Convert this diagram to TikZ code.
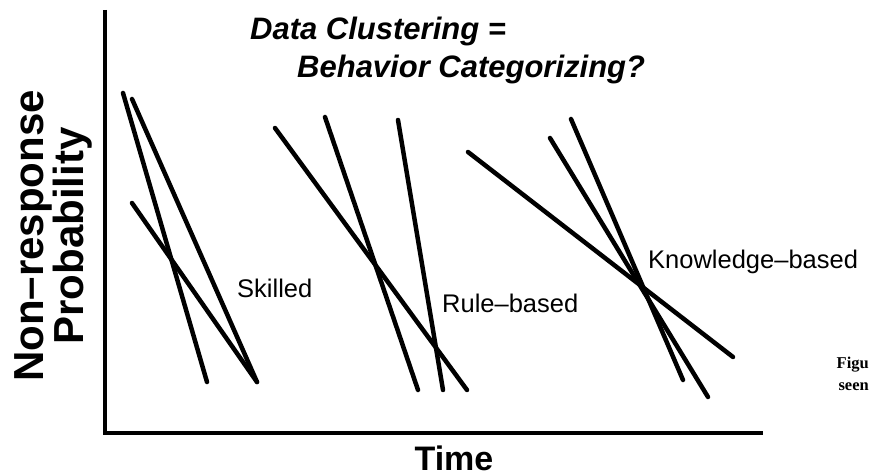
\documentclass[tikz,border=0pt]{standalone}
\usepackage{fontspec}
\setmainfont{Liberation Sans}
\newfontfamily\captionfont{Liberation Serif}
\usepackage{tikz}

\begin{document}
\begin{tikzpicture}[x=1pt,y=-1pt,
  trend/.style={line width=4.5pt,line cap=round},
  axis line/.style={line width=4.5pt},
  tag/.style={anchor=base west,inner sep=0pt,
    font=\fontsize{25.5}{30}\selectfont},
  heading/.style={anchor=base west,inner sep=0pt,
    font=\fontsize{31}{36}\selectfont\bfseries\itshape},
  axis name/.style={inner sep=0pt,font=\bfseries},
  cut text/.style={anchor=base east,inner sep=0pt,
    font=\fontsize{16.5}{20}\captionfont\bfseries}]

  \useasboundingbox (0,0) rectangle (871,476);

  % axes
  \coordinate (ytop) at (105,10);
  \coordinate (origin) at (105,433);
  \coordinate (xend) at (763,433);
  \draw[axis line] (ytop) -- (origin) -- (xend);

  % skilled
  \coordinate (sA) at (123,93);
  \coordinate (sB) at (132,99);
  \coordinate (sC) at (132,203);
  \coordinate (sAend) at (207,382);
  \coordinate (sBend) at (257,382);
  \draw[trend] (sA) -- (sAend);
  \draw[trend] (sB) -- (sBend);
  \draw[trend] (sC) -- (sBend);

  % rule-based
  \coordinate (rA) at (275,128);
  \coordinate (rB) at (325,117);
  \coordinate (rC) at (398,120);
  \draw[trend] (rA) -- (467,390) coordinate (rAend);
  \draw[trend] (rB) -- (418,390) coordinate (rBend);
  \draw[trend] (rC) -- (443,390) coordinate (rCend);

  % knowledge-based
  \coordinate (kA) at (468,152);
  \coordinate (kB) at (550,138);
  \coordinate (kC) at (571,119);
  \draw[trend] (kA) -- (733,357) coordinate (kAend);
  \draw[trend] (kB) -- (708,397) coordinate (kBend);
  \draw[trend] (kC) -- (683,380) coordinate (kCend);

  % texts
  \node[heading] (title) at (250,40) {Data Clustering =};
  \node[heading] (subtitle) at (297,78) {Behavior Categorizing?};
  \node[tag] (skilled) at (237,297) {Skilled};
  \node[tag] (rule) at (442,312) {Rule–based};
  \node[tag] (knowledge) at (648,268) {Knowledge–based};
  \node[axis name,anchor=base,font=\fontsize{34}{40}\selectfont\bfseries]
    (time) at (454,470) {Time};
  \node[axis name,rotate=90,align=center,
    font=\fontsize{42}{38}\selectfont\bfseries]
    (prob) at (53,236) {Non–response\\Probability};
  \node[cut text] (fig) at (869,368) {Figu};
  \node[cut text] (seen) at (869,390) {seen};
\end{tikzpicture}
\end{document}
